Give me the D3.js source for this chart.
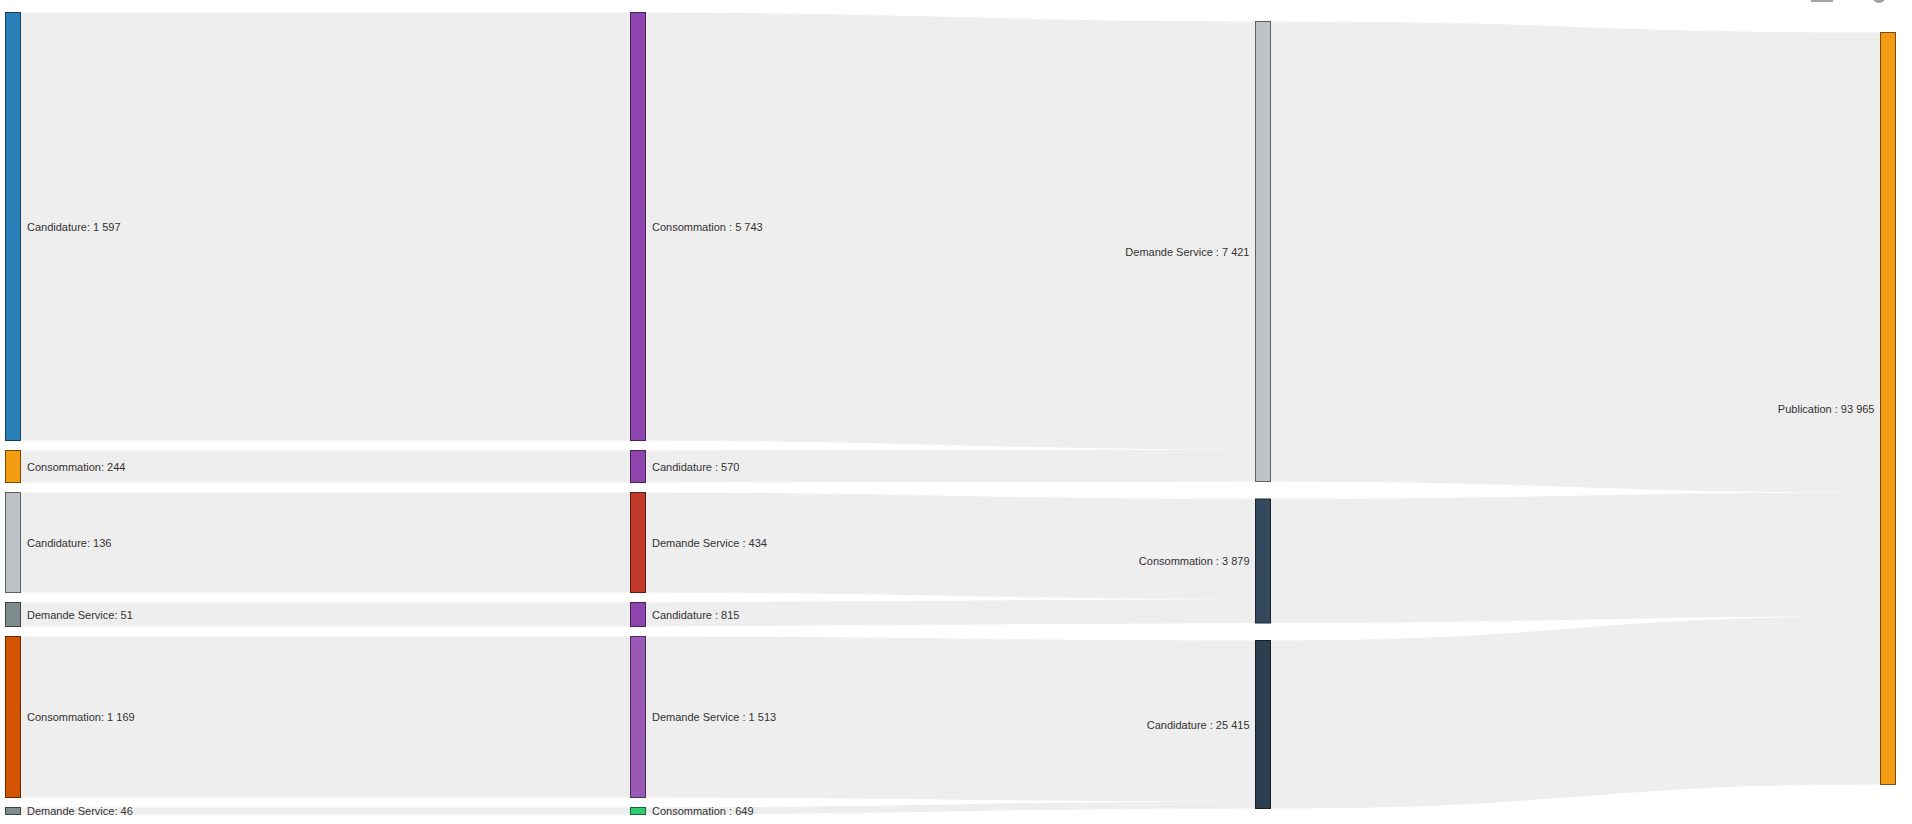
<!DOCTYPE html>
<html>
<head>
<meta charset="utf-8">
<title>Sankey</title>
<script src="https://cdn.jsdelivr.net/npm/d3@7"></script>
<style>
  html, body { margin: 0; padding: 0; background: #fff; overflow: hidden; }
  svg { display: block; }
  .node text { font: 11px "Liberation Sans", Arial, sans-serif; fill: #333; }
</style>
</head>
<body>
<svg id="chart" width="1912" height="824"></svg>
<script>
// values
const firstLabels = ["Candidature", "Consommation", "Candidature", "Demande Service", "Consommation", "Demande Service"];
const firstCounts = [1597, 244, 136, 51, 1169, 46];
const firstColors = ["#2980b9", "#f39c12", "#bdc3c7", "#7f8c8d", "#d35400", "#7f8c8d"];

const secondLabels = ["Consommation", "Candidature", "Demande Service", "Candidature", "Demande Service", "Consommation"];
const secondCounts = [5743, 570, 434, 815, 1513, 649];
const secondColors = ["#8e44ad", "#8e44ad", "#c0392b", "#8e44ad", "#9b59b6", "#2ecc71"];

const thirdLabels = ["Demande Service", "Consommation", "Candidature"];
const thirdCounts = [7421, 3879, 25415];
const thirdColors = ["#bdc3c7", "#34495e", "#2c3e50"];

const lastLabels = ["Publication"];
const lastCounts = [93965];
const lastColors = ["#f39c12"];

// band thickness of each path (the printed counts do not drive it)
const flowWeights = [428, 32, 100, 24, 161, 7];
// which third column node each path goes through
const thirdParents = [0, 0, 1, 1, 2, 2];

const NODE_W = 15;
const COL_TOP = [12.5, 12.5, 21.5, 32.5]; // top of each column
const COL_GAP = [10, 10, 17.5, 0]; // gap between nodes of a column

const svg = d3.select("#chart");
const x = d3.scaleLinear().domain([0, 3]).range([5.5, 1880.5]);
const h = d3.scaleLinear().domain([0, d3.sum(flowWeights)]).range([0, 752]);

// french thousands separator
const num = d3.formatLocale({ decimal: ",", thousands: " ", grouping: [3], currency: ["", " €"] }).format(",d");

// one flow per node of the column
const thirdWeights = thirdLabels.map((_, i) =>
  d3.sum(flowWeights.filter((_, k) => thirdParents[k] === i)));
const lastWeights = [d3.sum(flowWeights)];

function makeColumn(col, labels, counts, colors, weights, sep) {
  let y = COL_TOP[col];
  return labels.map((label, i) => {
    const node = {
      col, label, count: counts[i], color: colors[i], sep,
      x0: x(col), x1: x(col) + NODE_W, y0: y, y1: y + h(weights[i]),
    };
    y = node.y1 + COL_GAP[col];
    return node;
  });
}

const columns = [
  makeColumn(0, firstLabels, firstCounts, firstColors, flowWeights, ": "),
  makeColumn(1, secondLabels, secondCounts, secondColors, flowWeights, " : "),
  makeColumn(2, thirdLabels, thirdCounts, thirdColors, thirdWeights, " : "),
  makeColumn(3, lastLabels, lastCounts, lastColors, lastWeights, " : "),
];

// links, stacked inside the target node
const links = [];
function addLink(source, target, weight) {
  target.used = target.used || 0;
  const w = h(weight);
  links.push({
    source: [source.x1, source.y0 + (source.out || 0) + w / 2],
    target: [target.x0, target.y0 + target.used + w / 2],
    width: w,
  });
  source.out = (source.out || 0) + w;
  target.used += w;
}
flowWeights.forEach((w, i) => {
  addLink(columns[0][i], columns[1][i], w);
});
flowWeights.forEach((w, i) => {
  addLink(columns[1][i], columns[2][thirdParents[i]], w);
});
thirdWeights.forEach((w, i) => {
  addLink(columns[2][i], columns[3][0], w);
});

// links first, nodes and labels on top
const linkPath = d3.linkHorizontal();
svg.append("g")
  .selectAll("path")
  .data(links)
  .join("path")
  .attr("d", (d) => linkPath(d))
  .attr("fill", "none")
  .attr("stroke", "#eeeeee")
  .attr("stroke-width", (d) => d.width);

const node = svg.append("g")
  .selectAll("g")
  .data(columns.flat())
  .join("g")
  .attr("class", "node");

node.append("rect")
  .attr("x", (d) => d.x0)
  .attr("y", (d) => d.y0)
  .attr("width", (d) => d.x1 - d.x0)
  .attr("height", (d) => d.y1 - d.y0)
  .attr("fill", (d) => d.color)
  .attr("stroke", (d) => d3.rgb(d.color).darker(2));

node.append("text")
  .attr("x", (d) => (d.col < 2 ? d.x1 + 6.5 : d.x0 - 6))
  .attr("y", (d) => (d.y0 + d.y1) / 2 + 0.2)
  .attr("dy", "0.35em")
  .attr("text-anchor", (d) => (d.col < 2 ? "start" : "end"))
  .text((d) => d.label + d.sep + num(d.count));

// bits of the toolbar icons cut off by the top edge
const icons = svg.append("g").attr("fill", "#a3a3a3");
icons.append("rect").attr("x", 1811).attr("y", -6).attr("width", 22).attr("height", 8);
icons.append("circle").attr("cx", 1879).attr("cy", -4).attr("r", 7);
</script>
</body>
</html>
